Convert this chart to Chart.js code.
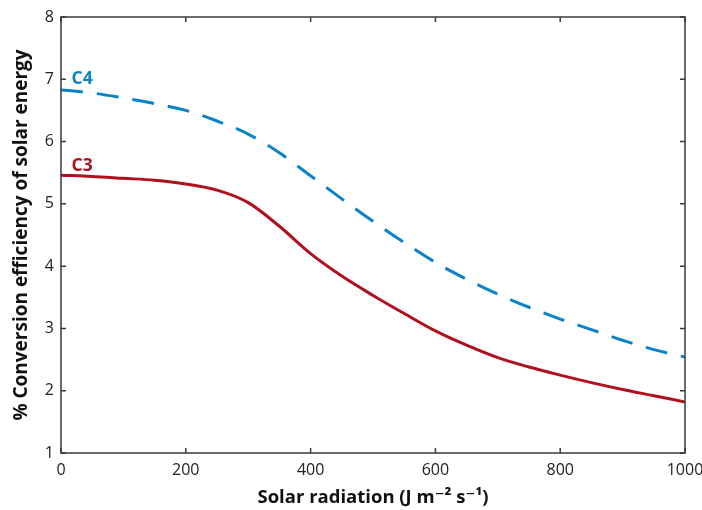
<!DOCTYPE html>
<html>
<head>
<meta charset="utf-8">
<script src="https://cdn.jsdelivr.net/npm/chart.js@4/dist/chart.umd.min.js"></script>
<style>
html,body{margin:0;padding:0;background:#fff;}
#wrap{width:702px;height:510px;position:relative;}
</style>
</head>
<body>
<div id="wrap"><canvas id="c" width="702" height="510"></canvas></div>
<script>
const radiation = [0,50,100,150,200,250,300,350,400,450,500,550,600,650,700,750,800,850,900,950,1000];
const c4Values = [6.83,6.78,6.70,6.61,6.50,6.33,6.12,5.82,5.45,5.08,4.72,4.38,4.06,3.79,3.55,3.34,3.15,2.98,2.81,2.66,2.54];
const c3Values = [5.46,5.44,5.41,5.38,5.32,5.22,5.02,4.64,4.20,3.84,3.53,3.24,2.96,2.73,2.53,2.38,2.25,2.13,2.02,1.92,1.82];
const xTicks = [0,200,400,600,800,1000];
const yTicks = [1,2,3,4,5,6,7,8];
const seriesLabels = ['C4','C3'];
const xTitle = 'Solar radiation (J m\u207B\u00B2 s\u207B\u00B9)';
const yTitle = '% Conversion efficiency of solar energy';

const BLUE = '#0a82c8';
const RED = '#b0101e';
const FONT = "'Open Sans', 'DejaVu Sans', sans-serif";

const framePlugin = {
  id: 'frame',
  afterDatasetsDraw(chart) {
    const ctx = chart.ctx;
    const a = chart.chartArea;
    const xs = chart.scales.x, ys = chart.scales.y;
    ctx.save();
    ctx.strokeStyle = '#3a3a3a';
    ctx.lineWidth = 1.5;
    ctx.strokeRect(a.left, a.top, a.right - a.left, a.bottom - a.top);
    const L = 5;
    ctx.beginPath();
    xTicks.forEach(v => {
      const px = xs.getPixelForValue(v);
      ctx.moveTo(px, a.bottom); ctx.lineTo(px, a.bottom - L);
      ctx.moveTo(px, a.top); ctx.lineTo(px, a.top + L);
    });
    yTicks.forEach(v => {
      const py = ys.getPixelForValue(v);
      ctx.moveTo(a.left, py); ctx.lineTo(a.left + L, py);
      ctx.moveTo(a.right, py); ctx.lineTo(a.right - L, py);
    });
    ctx.stroke();
    ctx.font = "bold 17.5px " + FONT;
    ctx.textAlign = 'left';
    ctx.textBaseline = 'middle';
    ctx.fillStyle = BLUE;
    ctx.fillText(seriesLabels[0], xs.getPixelForValue(17), ys.getPixelForValue(7.0));
    ctx.fillStyle = RED;
    ctx.fillText(seriesLabels[1], xs.getPixelForValue(17), ys.getPixelForValue(5.61));
    ctx.restore();
  }
};

new Chart(document.getElementById('c'), {
  type: 'line',
  data: {
    datasets: [
      {
        label: seriesLabels[0],
        data: radiation.map((x, i) => ({x, y: c4Values[i]})),
        borderColor: BLUE,
        borderWidth: 3,
        borderDash: [22, 14],
        pointRadius: 0,
        cubicInterpolationMode: 'monotone',
        fill: false
      },
      {
        label: seriesLabels[1],
        data: radiation.map((x, i) => ({x, y: c3Values[i]})),
        borderColor: RED,
        borderWidth: 3,
        pointRadius: 0,
        cubicInterpolationMode: 'monotone',
        fill: false
      }
    ]
  },
  options: {
    responsive: false,
    animation: false,
    devicePixelRatio: 1,
    layout: { padding: { left: 0, top: 17, right: 17, bottom: 0 } },
    plugins: { legend: { display: false }, tooltip: { enabled: false } },
    scales: {
      x: {
        type: 'linear',
        min: 0, max: 1000,
        afterBuildTicks(s) { s.ticks = xTicks.map(v => ({value: v})); },
        afterFit(s) { s.height = 57; s.paddingRight = 0; s.paddingLeft = 0; },
        grid: { display: false, drawTicks: false },
        border: { display: false },
        ticks: { color: '#222', font: { family: FONT, size: 16 }, padding: 8, maxRotation: 0, callback: v => String(v) },
        title: { display: true, text: xTitle, color: '#111', font: { family: FONT, size: 18.5, weight: 'bold' }, padding: { top: 0, bottom: 1 } }
      },
      y: {
        type: 'linear',
        min: 1, max: 8,
        afterBuildTicks(s) { s.ticks = yTicks.map(v => ({value: v})); },
        afterFit(s) { s.width = 61; s.paddingTop = 0; s.paddingBottom = 0; },
        grid: { display: false, drawTicks: false },
        border: { display: false },
        ticks: { color: '#222', font: { family: FONT, size: 16 }, padding: 7, callback: v => String(v) },
        title: { display: true, text: yTitle, color: '#111', font: { family: FONT, size: 19, weight: 'bold' }, padding: { top: 10, bottom: 0 } }
      }
    }
  },
  plugins: [framePlugin]
});
</script>
</body>
</html>
